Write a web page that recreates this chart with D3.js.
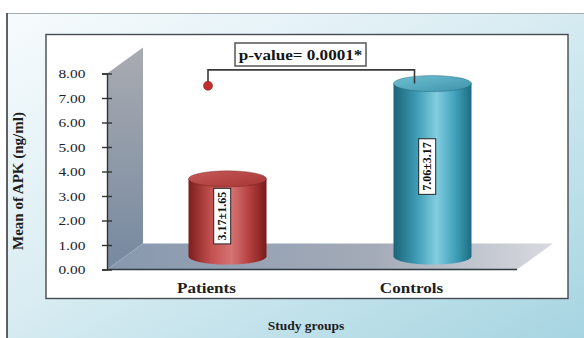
<!DOCTYPE html>
<html>
<head>
<meta charset="utf-8">
<script src="https://cdn.jsdelivr.net/npm/d3@7"></script>
<style>
  html, body { margin: 0; padding: 0; background: #ffffff; }
  svg { display: block; }
</style>
</head>
<body>
<svg id="chart" width="584" height="338"></svg>
<script>
// ---- data ----
const categories = ["Patients", "Controls"];
const means = [3.17, 7.06];
const sds = [1.65, 3.17];
const yTicks = [0, 1, 2, 3, 4, 5, 6, 7, 8];
const yTitle = "Mean of APK (ng/ml)";
const xTitle = "Study groups";
const pValueLabel = "p-value= 0.0001*";
const bracketLevel = 8.15;   // height of the significance bracket (axis units)
const markerLevel = 7.5;     // dot on the Patients end of the bracket

// ---- layout ----
const W = 584, H = 338;
const FONT = "'Liberation Serif', 'Times New Roman', serif";
const STRETCH = 1.14;               // slightly wide lettering
const depth = { dx: 36, dy: -26 };  // 3-D wall/floor offset
const plot = { left: 107, right: 517, top: 73.5, bottom: 269.5 };

const svg = d3.select("#chart");
const defs = svg.append("defs");

function linGrad(id, x1, y1, x2, y2, stops) {
  const g = defs.append("linearGradient").attr("id", id)
    .attr("x1", x1).attr("y1", y1).attr("x2", x2).attr("y2", y2);
  stops.forEach(([o, c]) => g.append("stop").attr("offset", o).attr("stop-color", c));
}

linGrad("bgGrad", 0, 0, 1, 1, [[0, "#f7fbfd"], [0.45, "#daedf3"], [1, "#a6d5e1"]]);
linGrad("wallGrad", 0, 0, 0, 1, [[0, "#a9abb1"], [1, "#7689a0"]]);
linGrad("floorGrad", 0, 0, 1, 0, [[0, "#8798ae"], [0.6, "#a4abb8"], [1, "#d8dadf"]]);
linGrad("redBody", 0, 0, 1, 0, [[0, "#7e1d1d"], [0.3, "#c45252"], [0.55, "#d77373"], [0.8, "#b23c3c"], [1, "#7a1a1a"]]);
linGrad("redTop", 0, 0, 1, 1, [[0, "#c75a5a"], [1, "#a63434"]]);
linGrad("tealBody", 0, 0, 1, 0, [[0, "#1b6478"], [0.3, "#3e9db5"], [0.55, "#82cde0"], [0.8, "#3f9fb8"], [1, "#1d6c82"]]);
linGrad("tealTop", 0, 0, 1, 1, [[0, "#6fbfd2"], [1, "#3e94ab"]]);

const palette = [
  { body: "url(#redBody)", top: "url(#redTop)", edge: "#6b1818" },
  { body: "url(#tealBody)", top: "url(#tealTop)", edge: "#1a5a6c" }
];

// ---- background frame and plot panel ----
svg.append("rect").attr("x", 7).attr("y", 13).attr("width", W - 7).attr("height", H - 13)
  .attr("fill", "url(#bgGrad)");
svg.append("line").attr("x1", 7).attr("x2", W).attr("y1", 13.5).attr("y2", 13.5)
  .attr("stroke", "#a8adb0").attr("stroke-width", 1.2);
svg.append("line").attr("x1", 7).attr("x2", 7).attr("y1", 13).attr("y2", H)
  .attr("stroke", "#2a2f33").attr("stroke-width", 1.5);
svg.append("rect").attr("x", 46).attr("y", 34.5).attr("width", 522).attr("height", 264)
  .attr("fill", "#ffffff").attr("stroke", "#454b4f").attr("stroke-width", 1.4);

// ---- scales ----
const y = d3.scaleLinear().domain([0, 8]).range([plot.bottom, plot.top]);
const x = d3.scaleBand().domain(categories).range([plot.left, plot.right]);

// ---- 3-D wall and floor ----
const y0 = y(0), yTop = y(d3.max(yTicks));
svg.append("path")
  .attr("d", `M${plot.left},${y0} L${plot.left},${yTop} L${plot.left + depth.dx},${yTop + depth.dy} L${plot.left + depth.dx},${y0 + depth.dy} Z`)
  .attr("fill", "url(#wallGrad)");
svg.append("path")
  .attr("d", `M${plot.left},${y0} L${plot.right},${y0} L${plot.right + depth.dx},${y0 + depth.dy} L${plot.left + depth.dx},${y0 + depth.dy} Z`)
  .attr("fill", "url(#floorGrad)");
svg.append("line").attr("x1", plot.left).attr("x2", plot.right).attr("y1", y0).attr("y2", y0)
  .attr("stroke", "#2e3a40").attr("stroke-width", 1.6);

// ---- y axis ----
const yAxis = svg.append("g").attr("transform", `translate(${plot.left},0)`)
  .call(d3.axisLeft(y).tickValues(yTicks).tickFormat(d3.format(".2f")).tickSizeOuter(0).tickSize(5).tickPadding(14));
yAxis.select(".domain").attr("stroke", "#333").attr("stroke-width", 1.4);
yAxis.selectAll(".tick line").attr("x1", -5).attr("x2", 5).attr("stroke", "#333").attr("stroke-width", 1.4);
yAxis.selectAll(".tick text")
  .attr("font-family", FONT).attr("font-size", 13.5).attr("fill", "#222")
  .attr("transform", `scale(${STRETCH},1)`);

svg.append("text")
  .attr("transform", "translate(23,181) rotate(-90)")
  .attr("text-anchor", "middle").attr("font-family", FONT).attr("font-weight", "bold")
  .attr("font-size", 15).attr("fill", "#1e1e1e").text(yTitle);

// ---- cylinders ----
const rx = 39, ry = 8;
const cylinders = categories.map((c, i) => {
  const cx = x(c) + x.bandwidth() / 2 + depth.dx / 2;
  const base = y(0) + depth.dy / 2;
  const top = y(means[i]) + depth.dy / 2;
  return { c, i, cx, base, top };
});

const cyl = svg.append("g").selectAll("g").data(cylinders).join("g");
cyl.append("path")
  .attr("d", d => `M${d.cx - rx},${d.top} L${d.cx - rx},${d.base} A${rx},${ry} 0 0 0 ${d.cx + rx},${d.base} L${d.cx + rx},${d.top} Z`)
  .attr("fill", d => palette[d.i].body);
cyl.append("ellipse")
  .attr("cx", d => d.cx).attr("cy", d => d.top).attr("rx", rx).attr("ry", ry)
  .attr("fill", d => palette[d.i].top).attr("stroke", d => palette[d.i].edge).attr("stroke-width", 0.4);

// value labels (mean ± SD) inside each cylinder
const valueLabel = cyl.append("g")
  .attr("transform", d => `translate(${d.cx - 5.5},${d.base - (d.base - d.top) * 0.52}) rotate(-90)`);
valueLabel.append("text")
  .attr("text-anchor", "middle").attr("dy", "0.35em")
  .attr("font-family", FONT).attr("font-weight", "bold").attr("font-size", 12).attr("fill", "#111")
  .text(d => `${means[d.i].toFixed(2)}±${sds[d.i].toFixed(2)}`)
  .each(function () {
    const b = this.getBBox();
    d3.select(this.parentNode).insert("rect", "text")
      .attr("x", b.x - 3.5).attr("y", b.y - 1.5).attr("width", b.width + 7).attr("height", b.height + 3)
      .attr("fill", "#ffffff").attr("stroke", "#222").attr("stroke-width", 1);
  });

// ---- category labels ----
svg.append("g").selectAll("text").data(categories).join("text")
  .attr("transform", d => `translate(${x(d) + x.bandwidth() / 2 - 3},293) scale(${STRETCH},1)`)
  .attr("text-anchor", "middle").attr("font-family", FONT).attr("font-weight", "bold")
  .attr("font-size", 15).attr("fill", "#1e1e1e").text(d => d);

svg.append("text")
  .attr("x", 306).attr("y", 330)
  .attr("text-anchor", "middle").attr("font-family", FONT).attr("font-weight", "bold")
  .attr("font-size", 13.5).attr("fill", "#1e1e1e").text(xTitle);

// ---- significance bracket ----
const bx1 = x(categories[0]) + x.bandwidth() / 2 - 1.5;
const bx2 = x(categories[1]) + x.bandwidth() / 2;
const by = y(bracketLevel);
svg.append("path")
  .attr("d", `M${bx1},${y(markerLevel)} L${bx1},${by} L${bx2},${by} L${bx2},${cylinders[1].top}`)
  .attr("fill", "none").attr("stroke", "#3a3a3a").attr("stroke-width", 1.6);
svg.append("circle").attr("cx", bx1).attr("cy", y(markerLevel)).attr("r", 4.5)
  .attr("fill", "#c12f2c").attr("stroke", "#8e1f1d").attr("stroke-width", 0.6);

const pBox = svg.append("g").attr("transform", "translate(300.5,60)");
pBox.append("text")
  .attr("text-anchor", "middle").attr("transform", `scale(${STRETCH},1)`)
  .attr("font-family", FONT).attr("font-weight", "bold").attr("font-size", 15).attr("fill", "#161616")
  .text(pValueLabel);
pBox.insert("rect", "text")
  .attr("x", -65.5).attr("y", -17).attr("width", 131).attr("height", 23)
  .attr("fill", "#ffffff").attr("stroke", "#555").attr("stroke-width", 1.5);
</script>
</body>
</html>
